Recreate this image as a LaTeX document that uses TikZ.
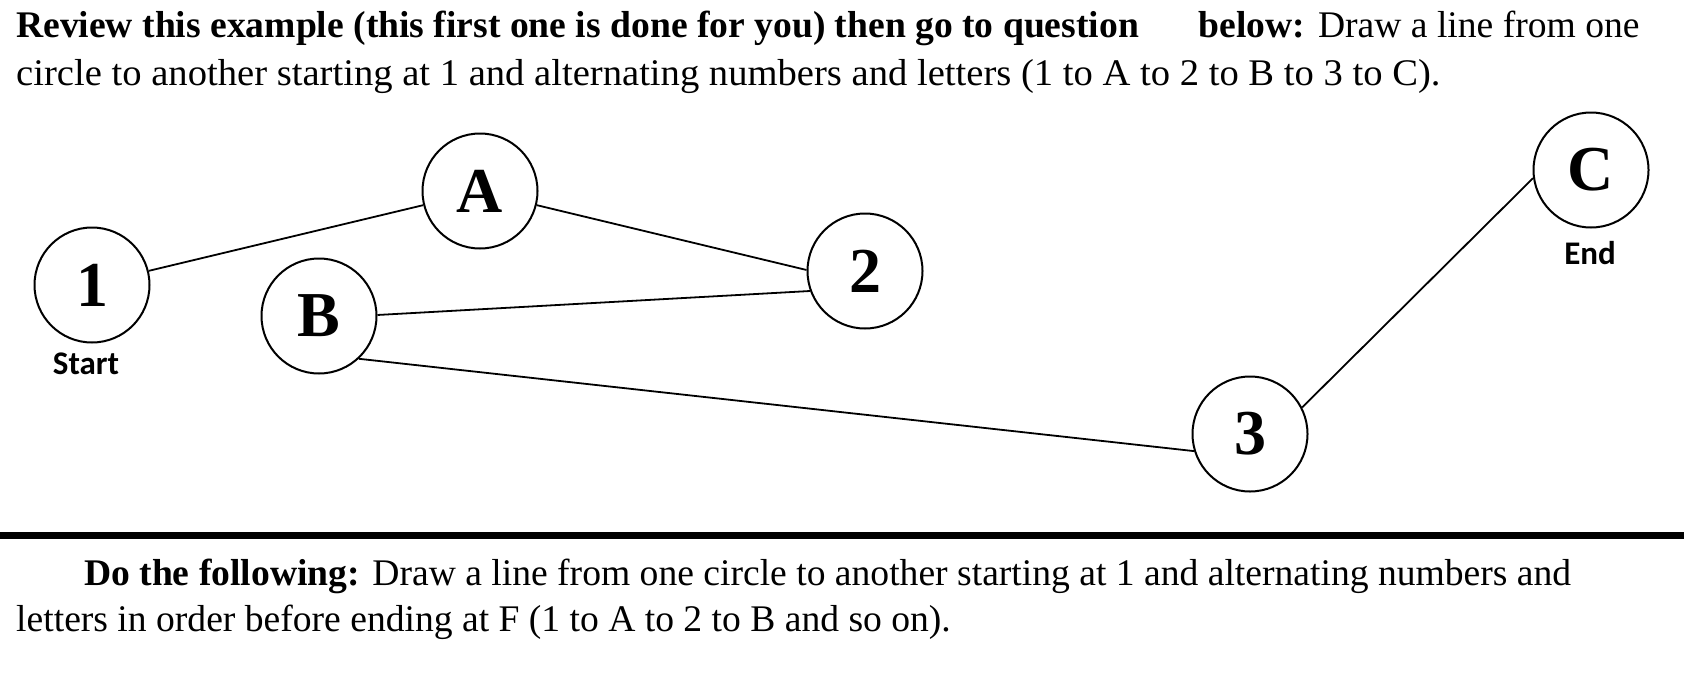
\documentclass[tikz,border=0pt]{standalone}
\usepackage{fontspec}
\setmainfont{Liberation Serif}
\newfontfamily\calib{Carlito}
\begin{document}
\begin{tikzpicture}[x=1pt,y=-1pt,
  circ/.style={draw, circle, line width=2pt, minimum size=115pt, inner sep=0pt, font=\fontsize{64}{64}\selectfont\bfseries},
  conn/.style={line width=1.8pt},
  tag/.style={font=\calib\fontsize{33}{33}\selectfont\bfseries, inner sep=0pt},
  para/.style={anchor=base west, inner sep=0pt, font=\fontsize{37.6}{44}\selectfont}]
\useasboundingbox (0,0) rectangle (1684,672);
\node[para] (t1) at (16,37) {\textbf{Review this example (this first one is done for you) then go to question}\hspace{60pt}\textbf{below:} Draw a line from one};
\node[para] (t2) at (16,85) {\scalebox{1.027}[1]{circle to another starting at 1 and alternating numbers and letters (1 to A to 2 to B to 3 to C).}};
\node[circ] (n1) at (92,285) {1};
\node[circ] (nA) at (480,191) {A};
\node[circ] (nB) at (319,316) {B};
\node[circ] (n2) at (865,271) {2};
\node[circ] (n3) at (1250,434) {3};
\node[circ] (nC) at (1591,170) {C};
\draw[conn] (n1.14) -- (nA.194);
\draw[conn] (nA.-14) -- (n2.179);
\draw[conn] (nB.1) -- (n2.200);
\draw[conn] (nB.-47) -- (n3.197);
\draw[conn] (n3.27) -- (nC.188);
\node[tag] (s) at (86,364) {Start};
\node[tag] (e) at (1590,253) {End};
\fill (0,532) rectangle (1684,539);
\node[para] (t3) at (84,585) {\textbf{Do the following:} Draw a line from one circle to another starting at 1 and alternating numbers and};
\node[para] (t4) at (16,631) {letters in order before ending at F (1 to A to 2 to B and so on).};
\end{tikzpicture}
\end{document}
